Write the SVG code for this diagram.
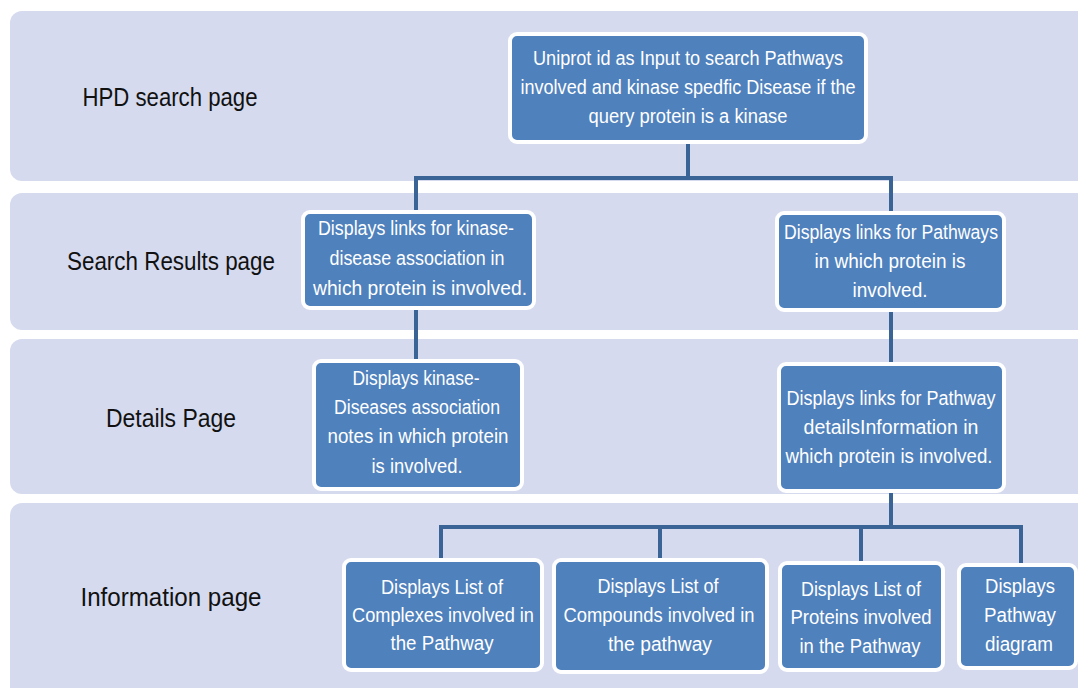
<svg xmlns="http://www.w3.org/2000/svg" width="1078" height="688" viewBox="0 0 1078 688">
<style>
.band{fill:#d5daee}
.box{fill:#4f81bd;stroke:#ffffff;stroke-width:4}
.bt{font-family:"Liberation Sans Narrow","Liberation Sans",Arial,sans-serif;font-size:20px;fill:#ffffff;text-anchor:middle}
.lbl{font-family:"Liberation Sans Narrow","Liberation Sans",Arial,sans-serif;font-size:26px;fill:#111111;text-anchor:middle}
.con{fill:none;stroke:#3b6496;stroke-width:4}
</style>
<rect width="1078" height="688" fill="#ffffff"/>
<g id="bands">
<rect class="band" x="10" y="11" width="1090" height="170" rx="12"/>
<rect class="band" x="10" y="193" width="1090" height="137" rx="12"/>
<rect class="band" x="10" y="339" width="1090" height="155" rx="12"/>
<rect class="band" x="10" y="503" width="1090" height="200" rx="12"/>
</g>
<g id="labels">
<text class="lbl" x="170" y="106" textLength="175" lengthAdjust="spacingAndGlyphs">HPD search page</text>
<text class="lbl" x="171" y="270" textLength="208" lengthAdjust="spacingAndGlyphs">Search Results page</text>
<text class="lbl" x="171" y="427" textLength="130" lengthAdjust="spacingAndGlyphs">Details Page</text>
<text class="lbl" x="171" y="606" textLength="181" lengthAdjust="spacingAndGlyphs">Information page</text>
</g>
<g id="connectors">
<path class="con" d="M688 142 V178 M416 178 H891 M416 176 V212 M891 176 V213"/>
<path class="con" d="M416 308 V361"/>
<path class="con" d="M891 310 V364"/>
<path class="con" d="M891 491 V527 M441 527 H1021 M441 525 V560 M660 525 V560 M861 525 V563 M1021 525 V565"/>
</g>
<g id="n-top">
<rect class="box" x="510" y="34" width="356" height="108" rx="7"/>
<text class="bt" x="688" y="65" textLength="310" lengthAdjust="spacingAndGlyphs">Uniprot id as Input to search Pathways</text>
<text class="bt" x="688" y="94" textLength="335" lengthAdjust="spacingAndGlyphs">involved and kinase spedfic Disease if the</text>
<text class="bt" x="688" y="123" textLength="199" lengthAdjust="spacingAndGlyphs">query protein is a kinase</text>
</g>
<g id="n-search-kinase">
<rect class="box" x="303" y="212" width="231" height="96" rx="7"/>
<text class="bt" x="416" y="235" textLength="196" lengthAdjust="spacingAndGlyphs">Displays links for  kinase-</text>
<text class="bt" x="417" y="265" textLength="175" lengthAdjust="spacingAndGlyphs">disease association in</text>
<text class="bt" x="420" y="295" textLength="214" lengthAdjust="spacingAndGlyphs">which protein is involved.</text>
</g>
<g id="n-search-pathways">
<rect class="box" x="777" y="213" width="227" height="97" rx="7"/>
<text class="bt" x="891" y="239" textLength="214" lengthAdjust="spacingAndGlyphs">Displays links for Pathways</text>
<text class="bt" x="890" y="268" textLength="151" lengthAdjust="spacingAndGlyphs">in which protein is</text>
<text class="bt" x="890" y="297" textLength="75" lengthAdjust="spacingAndGlyphs">involved.</text>
</g>
<g id="n-details-kinase">
<rect class="box" x="314" y="361" width="208" height="128" rx="7"/>
<text class="bt" x="416" y="385" textLength="127" lengthAdjust="spacingAndGlyphs">Displays kinase-</text>
<text class="bt" x="417" y="414" textLength="166" lengthAdjust="spacingAndGlyphs">Diseases association</text>
<text class="bt" x="418" y="443" textLength="181" lengthAdjust="spacingAndGlyphs">notes in which protein</text>
<text class="bt" x="417" y="473" textLength="91" lengthAdjust="spacingAndGlyphs">is involved.</text>
</g>
<g id="n-details-pathway">
<rect class="box" x="779" y="364" width="225" height="127" rx="7"/>
<text class="bt" x="891" y="405" textLength="209" lengthAdjust="spacingAndGlyphs">Displays links for Pathway</text>
<text class="bt" x="891" y="434" textLength="175" lengthAdjust="spacingAndGlyphs">detailsInformation in</text>
<text class="bt" x="889" y="463" textLength="207" lengthAdjust="spacingAndGlyphs">which protein is involved.</text>
</g>
<g id="n-complexes">
<rect class="box" x="344" y="560" width="198" height="110" rx="7"/>
<text class="bt" x="442" y="594" textLength="122" lengthAdjust="spacingAndGlyphs">Displays List of</text>
<text class="bt" x="443" y="622" textLength="182" lengthAdjust="spacingAndGlyphs">Complexes involved in</text>
<text class="bt" x="442" y="650" textLength="103" lengthAdjust="spacingAndGlyphs">the Pathway</text>
</g>
<g id="n-compounds">
<rect class="box" x="554" y="560" width="213" height="112" rx="7"/>
<text class="bt" x="658" y="593" textLength="121" lengthAdjust="spacingAndGlyphs">Displays List of</text>
<text class="bt" x="659" y="622" textLength="191" lengthAdjust="spacingAndGlyphs">Compounds involved in</text>
<text class="bt" x="660" y="651" textLength="104" lengthAdjust="spacingAndGlyphs">the pathway</text>
</g>
<g id="n-proteins">
<rect class="box" x="780" y="563" width="163" height="107" rx="7"/>
<text class="bt" x="861" y="596" textLength="120" lengthAdjust="spacingAndGlyphs">Displays List of</text>
<text class="bt" x="861" y="624" textLength="141" lengthAdjust="spacingAndGlyphs">Proteins involved</text>
<text class="bt" x="860" y="653" textLength="121" lengthAdjust="spacingAndGlyphs">in the Pathway</text>
</g>
<g id="n-diagram">
<rect class="box" x="959" y="565" width="117" height="103" rx="7"/>
<text class="bt" x="1020" y="593" textLength="70" lengthAdjust="spacingAndGlyphs">Displays</text>
<text class="bt" x="1020" y="622" textLength="72" lengthAdjust="spacingAndGlyphs">Pathway</text>
<text class="bt" x="1019" y="651" textLength="68" lengthAdjust="spacingAndGlyphs">diagram</text>
</g>
</svg>
